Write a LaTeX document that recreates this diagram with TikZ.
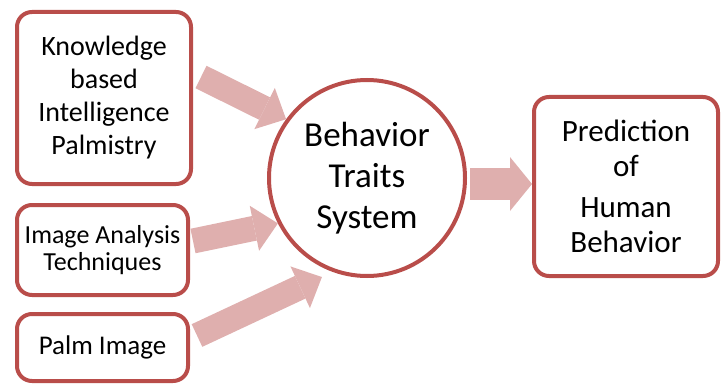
\documentclass[tikz,border=0pt]{standalone}
\usepackage{fontspec}
\setmainfont{Carlito}
\usetikzlibrary{arrows.meta}
\definecolor{boxred}{RGB}{185,77,74}
\definecolor{arrowpink}{RGB}{223,175,174}
\tikzset{
  box/.style={draw=boxred, line width=4pt, rounded corners=15pt, fill=white,
    align=center, inner sep=0pt},
  fat/.style={draw=arrowpink, line width=#1,
    -{Triangle[length=24pt, width=46pt, line width=0pt]}},
  fat/.default=25pt
}
\begin{document}
\begin{tikzpicture}[x=1pt,y=-1pt]
\useasboundingbox (0,0) rectangle (727,385);
\node[box, minimum width=174pt, minimum height=172pt,
  font=\fontsize{28}{33}\selectfont] (kbp) at (104,98)
  {Knowledge\\based\\Intelligence\\Palmistry};
\node[box, minimum width=171pt, minimum height=90pt,
  font=\fontsize{26}{27}\selectfont] (iat) at (102.5,250)
  {Image Analysis\\Techniques};
\node[box, minimum width=171pt, minimum height=67pt,
  font=\fontsize{27}{30}\selectfont] (palm) at (102.5,347.5) {Palm Image};
\node[draw=boxred, line width=4pt, circle, minimum size=196pt, align=center,
  inner sep=0pt, font=\fontsize{35}{41}\selectfont] (bts) at (367,178)
  {Behavior\\Traits\\System};
\node[box, minimum width=184pt, minimum height=179pt,
  font=\fontsize{31}{35}\selectfont] (pred) at (626,186.5)
  {Prediction\\of\\[6pt]Human\\Behavior};
% arrows into the system
\draw[fat] ([xshift=8pt,yshift=21pt]kbp.east) -- (bts.144);
\draw[fat] ([xshift=3pt,yshift=9pt]iat.east) -- (bts.207);
\draw[fat, shorten >=12pt] ([xshift=7pt,yshift=12pt]palm.east) -- (bts.250);
% arrow to the prediction
\draw[fat=32pt, -{Triangle[length=22pt, width=54pt, line width=0pt]}]
  ([xshift=3pt,yshift=-6pt]bts.east) -- ([yshift=-6pt]bts.east -| pred.west);
\end{tikzpicture}
\end{document}
